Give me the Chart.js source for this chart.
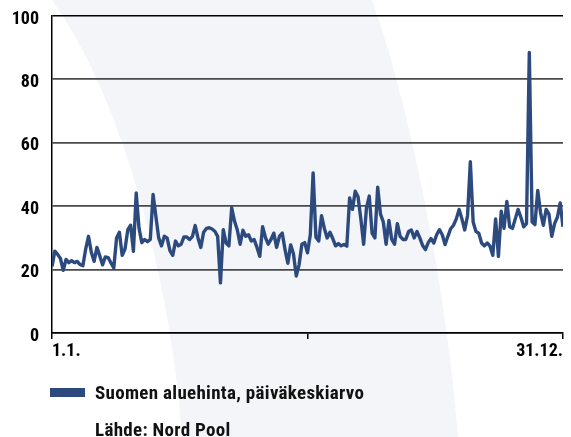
<!DOCTYPE html>
<html>
<head>
<meta charset="utf-8">
<script src="https://cdn.jsdelivr.net/npm/chart.js@4/dist/chart.umd.min.js"></script>
<style>
    html, body { margin: 0; padding: 0; background: #fff; }
    #wrap { position: relative; width: 571px; height: 437px; overflow: hidden; }
    #chart { position: absolute; left: 0; top: 0; }
    .txt {
        position: absolute;
        left: 95px;
        font: bold 19px "Liberation Sans Narrow", "Roboto Condensed", "DejaVu Sans Condensed", sans-serif;
        letter-spacing: 0.3px;
        line-height: 1;
        color: #111;
        white-space: nowrap;
    }
    .swatch { position: absolute; left: 50px; top: 388px; width: 35px; height: 9px; background: #2c4a7e; }
</style>
</head>
<body>
<div id="wrap">
    <canvas id="chart" width="571" height="437"></canvas>
    <div class="swatch"></div>
    <div class="txt" style="top:383px">Suomen aluehinta, päiväkeskiarvo</div>
    <div class="txt" style="top:420px">Lähde: Nord Pool</div>
</div>
<script>
// päiväkeskiarvo, luettu kuvasta joka toiselta päivältä (1.1. ... 31.12.)
const prices = [
    21, 25.8, 24.8, 23.5, 19.8, 23.2, 22.2, 22.8, 22.2, 22.6,
    21.6, 21.2, 26.5, 30.5, 25.5, 22.6, 27, 24.4, 21.5, 24,
    23.8, 22.1, 20.5, 30, 31.8, 24.5, 26.5, 32.6, 34, 25.8,
    44.2, 33, 28.5, 29.5, 28.8, 29.5, 43.7, 36.8, 30, 27.5,
    30.5, 30, 26, 24.5, 29, 27.5, 28, 30.3, 30.3, 29.5,
    30.4, 33.9, 30, 27, 31.8, 33, 33.2, 32.8, 32.1, 30.5,
    15.8, 32.6, 28.4, 27.5, 39.5, 35.3, 32.5, 28, 32.4, 30.5,
    31, 29, 29.5, 27, 24.2, 33.5, 30.2, 28, 29.5, 31.5,
    27, 30.5, 31.5, 26.3, 22, 27.8, 25, 18, 21.5, 28,
    28.5, 25.3, 31, 50.5, 30.2, 29, 37, 33, 30, 31.8,
    29.8, 27.5, 28.2, 27.5, 27.9, 27.4, 42.6, 39, 44.7, 43,
    36, 28, 39.5, 43.2, 31.5, 30, 46, 37.5, 35, 28,
    35.5, 29.5, 28, 34.5, 30.5, 29.5, 29.5, 32, 32.5, 30,
    32, 30, 27.6, 26.3, 28.5, 29.8, 28.4, 31, 32.6, 31,
    27.9, 30.5, 32.9, 34, 36, 39, 36, 32.5, 37, 54,
    35, 32, 31.5, 28.4, 27.5, 28.4, 27.4, 24.5, 36, 24.2,
    38.4, 33, 41.5, 33.5, 33, 36, 39, 36.5, 33.5, 34.5,
    88.5, 35, 34.2, 45, 38, 34, 39, 37.5, 30.5, 34.5,
    36.5, 41, 33.5
];
const dayStep = 2;
const xTickValues = [0, 182, 364];
const xTickLabels = ['1.1.', '', '31.12.'];
const yTickValues = [0, 20, 40, 60, 80, 100];

const lineColor = '#2c4a7e';
const fontFamily = '"Liberation Sans Narrow", "Roboto Condensed", "DejaVu Sans Condensed", sans-serif';

// vaalea kaari taustalla
const swoosh = {
    id: 'swoosh',
    beforeDraw(chart) {
        const ctx = chart.ctx;
        ctx.save();
        ctx.fillStyle = '#fff';
        ctx.fillRect(0, 0, chart.width, chart.height);
        ctx.fillStyle = '#f4f5f8';
        ctx.beginPath();
        ctx.moveTo(52, 0);
        ctx.bezierCurveTo(124, 100, 172, 287, 182, 437);
        ctx.lineTo(458, 437);
        ctx.bezierCurveTo(447, 287, 408, 100, 372, 0);
        ctx.closePath();
        ctx.fill();
        ctx.restore();
    }
};

const points = prices.map((v, i) => ({ x: i * dayStep, y: v }));

new Chart(document.getElementById('chart'), {
    type: 'line',
    data: {
        datasets: [{
            label: 'Suomen aluehinta, päiväkeskiarvo',
            data: points,
            borderColor: lineColor,
            borderWidth: 3.4,
            borderJoinStyle: 'round',
            pointRadius: 0,
            tension: 0,
            fill: false
        }]
    },
    options: {
        responsive: false,
        animation: false,
        devicePixelRatio: 1,
        layout: {
            padding: { left: 0, right: 8, top: 16, bottom: 74 }
        },
        plugins: {
            legend: { display: false },
            tooltip: { enabled: false }
        },
        scales: {
            x: {
                type: 'linear',
                min: 0,
                max: 364,
                afterBuildTicks: s => { s.ticks = xTickValues.map(v => ({ value: v })); },
                afterFit: s => { s.height = 30; },
                ticks: {
                    autoSkip: false,
                    maxRotation: 0,
                    align: 'inner',
                    padding: 2,
                    color: '#000',
                    font: { family: fontFamily, size: 18, weight: 'bold' },
                    callback: (v) => xTickLabels[xTickValues.indexOf(v)] ?? ''
                },
                grid: {
                    drawOnChartArea: false,
                    drawTicks: true,
                    tickLength: 6,
                    color: '#000',
                    lineWidth: 1.5
                },
                border: { color: '#000', width: 1.5 }
            },
            y: {
                min: 0,
                max: 100,
                afterBuildTicks: s => { s.ticks = yTickValues.map(v => ({ value: v })); },
                afterFit: s => { s.width = 52; },
                ticks: {
                    padding: 0,
                    labelOffset: 3,
                    color: '#000',
                    font: { family: fontFamily, size: 18, weight: 'bold' }
                },
                grid: {
                    drawTicks: true,
                    tickLength: 13,
                    tickColor: 'rgba(0,0,0,0)',
                    color: c => c.tick && c.tick.value === 100 ? '#000' : '#4a4a4a',
                    lineWidth: c => c.tick && c.tick.value === 100 ? 1.5 : 1.8
                },
                border: { color: '#000', width: 1.5 }
            }
        }
    },
    plugins: [swoosh]
});
</script>
</body>
</html>
